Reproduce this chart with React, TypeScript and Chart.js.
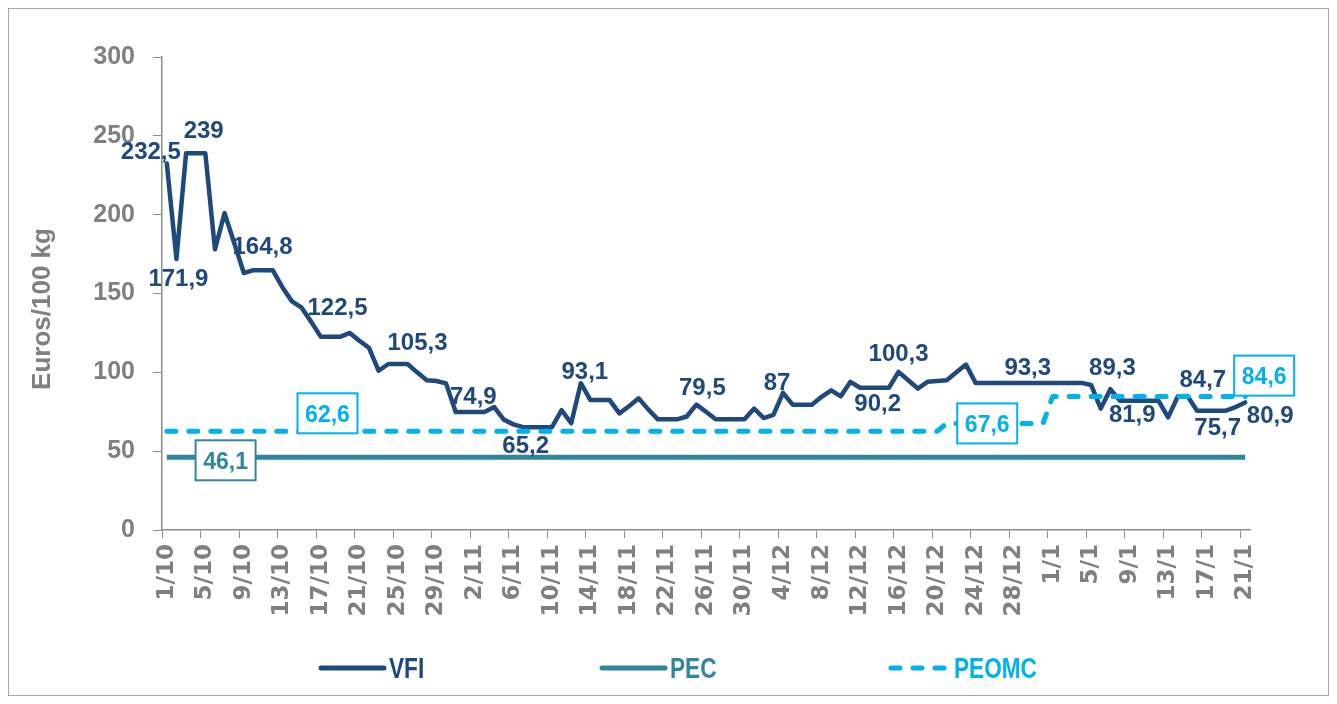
import { useEffect, useRef } from 'react';
import { Chart, registerables } from 'chart.js';

Chart.register(...registerables);

// ---------- data ----------
const DATES = [
  '1/10','2/10','3/10','4/10','5/10','6/10','7/10','8/10','9/10','10/10',
  '11/10','12/10','13/10','14/10','15/10','16/10','17/10','18/10','19/10','20/10',
  '21/10','22/10','23/10','24/10','25/10','26/10','27/10','28/10','29/10','30/10','31/10',
  '1/11','2/11','3/11','4/11','5/11','6/11','7/11','8/11','9/11','10/11',
  '11/11','12/11','13/11','14/11','15/11','16/11','17/11','18/11','19/11','20/11',
  '21/11','22/11','23/11','24/11','25/11','26/11','27/11','28/11','29/11','30/11',
  '1/12','2/12','3/12','4/12','5/12','6/12','7/12','8/12','9/12','10/12',
  '11/12','12/12','13/12','14/12','15/12','16/12','17/12','18/12','19/12','20/12',
  '21/12','22/12','23/12','24/12','25/12','26/12','27/12','28/12','29/12','30/12','31/12',
  '1/1','2/1','3/1','4/1','5/1','6/1','7/1','8/1','9/1','10/1',
  '11/1','12/1','13/1','14/1','15/1','16/1','17/1','18/1','19/1','20/1','21/1',
];

const VFI = [
  232.5, 171.9, 239, 239, 239, 178, 201, 182, 163, 164.8,
  164.8, 164.8, 154, 145, 141, 132, 122.5, 122.5, 122.5, 125,
  120, 115.5, 101, 105.3, 105.3, 105.3, 100, 95, 94.5, 93,
  74.9, 74.9, 74.9, 74.9, 78, 70, 67, 65.2, 65.2, 65.2,
  65.2, 76, 67.7, 93.1, 82.4, 82.4, 82.4, 74, 78.5, 83.5,
  76.5, 70.2, 70.2, 70.2, 72, 79.5, 75, 70.2, 70.2, 70.2,
  70.2, 77, 71, 73, 87, 79.5, 79.5, 79.5, 84.5, 88.6,
  84.8, 94, 90.2, 90.2, 90.2, 90.2, 100.3, 95, 89.7, 94,
  94.5, 95, 100, 104.9, 93.3, 93.3, 93.3, 93.3, 93.3, 93.3,
  93.3, 93.3, 93.3, 93.3, 93.3, 93.3, 92, 77, 89.3, 81.9,
  81.9, 81.9, 81.9, 81.9, 71.5, 84.7, 85, 75.7, 75.7, 75.7,
  75.7, 78, 80.9,
];

const PEC = [
  46.1, 46.1, 46.1, 46.1, 46.1, 46.1, 46.1, 46.1, 46.1, 46.1,
  46.1, 46.1, 46.1, 46.1, 46.1, 46.1, 46.1, 46.1, 46.1, 46.1,
  46.1, 46.1, 46.1, 46.1, 46.1, 46.1, 46.1, 46.1, 46.1, 46.1,
  46.1, 46.1, 46.1, 46.1, 46.1, 46.1, 46.1, 46.1, 46.1, 46.1,
  46.1, 46.1, 46.1, 46.1, 46.1, 46.1, 46.1, 46.1, 46.1, 46.1,
  46.1, 46.1, 46.1, 46.1, 46.1, 46.1, 46.1, 46.1, 46.1, 46.1,
  46.1, 46.1, 46.1, 46.1, 46.1, 46.1, 46.1, 46.1, 46.1, 46.1,
  46.1, 46.1, 46.1, 46.1, 46.1, 46.1, 46.1, 46.1, 46.1, 46.1,
  46.1, 46.1, 46.1, 46.1, 46.1, 46.1, 46.1, 46.1, 46.1, 46.1,
  46.1, 46.1, 46.1, 46.1, 46.1, 46.1, 46.1, 46.1, 46.1, 46.1,
  46.1, 46.1, 46.1, 46.1, 46.1, 46.1, 46.1, 46.1, 46.1, 46.1,
  46.1, 46.1, 46.1,
];

const PEOMC = [
  62.6, 62.6, 62.6, 62.6, 62.6, 62.6, 62.6, 62.6, 62.6, 62.6,
  62.6, 62.6, 62.6, 62.6, 62.6, 62.6, 62.6, 62.6, 62.6, 62.6,
  62.6, 62.6, 62.6, 62.6, 62.6, 62.6, 62.6, 62.6, 62.6, 62.6,
  62.6, 62.6, 62.6, 62.6, 62.6, 62.6, 62.6, 62.6, 62.6, 62.6,
  62.6, 62.6, 62.6, 62.6, 62.6, 62.6, 62.6, 62.6, 62.6, 62.6,
  62.6, 62.6, 62.6, 62.6, 62.6, 62.6, 62.6, 62.6, 62.6, 62.6,
  62.6, 62.6, 62.6, 62.6, 62.6, 62.6, 62.6, 62.6, 62.6, 62.6,
  62.6, 62.6, 62.6, 62.6, 62.6, 62.6, 62.6, 62.6, 62.6, 62.6,
  62.6, 67.6, 67.6, 67.6, 67.6, 67.6, 67.6, 67.6, 67.6, 67.6,
  67.6, 67.6, 84.6, 84.6, 84.6, 84.6, 84.6, 84.6, 84.6, 84.6,
  84.6, 84.6, 84.6, 84.6, 84.6, 84.6, 84.6, 84.6, 84.6, 84.6,
  84.6, 84.6, 84.6,
];

const SERIES_NAMES = ['VFI', 'PEC', 'PEOMC'];
const Y_TITLE = 'Euros/100 kg';

// indices of VFI points that carry a value label
const VFI_LABEL_INDEX = [0, 1, 3, 9, 17, 25, 31, 38, 43, 55, 64, 73, 76, 89, 98, 101, 105, 108, 112];
// index of boxed labels for PEC / PEOMC
const PEC_LABEL_INDEX = [6];
const PEOMC_LABEL_INDEX = [17, 85, 112];

// ---------- styling / placement ----------
const VFI_COLOR = '#1F497D';
const PEC_COLOR = '#31859C';
const PEOMC_COLOR = '#00B0F0';
const GRAY = '#808080';
const AXIS_GRAY = '#8c8c8c';
const FONT = "'Liberation Sans', Arial, sans-serif";
const XFONT = "'DejaVu Sans', sans-serif";

// label offsets (dx, dy in px from the point) in the same order as VFI_LABEL_INDEX
const VFI_LABEL_OFFSETS = [
  [-16, -13], [2, 18], [8, -24], [9, -25], [7, -30], [10, -23], [8, -17], [-7, 17],
  [4, -13], [6, -18], [-6, -11], [8, 15], [0, -20], [4, -17], [2, -23], [-7, 12],
  [25, -18], [11, 16], [25, 12],
];
const PEC_LABEL_OFFSETS = [[1, 3]];
const PEOMC_LABEL_OFFSETS = [[-3, -18], [2, 0], [19, -21]];

const fmt = (v: number) => String(v).replace('.', ',');

const valueLabelsPlugin = {
  id: 'valueLabels',
  afterDatasetsDraw(chart: any) {
    const { ctx } = chart;
    const xs = chart.scales.x;
    const ys = chart.scales.y;
    ctx.save();
    ctx.textAlign = 'center';
    ctx.textBaseline = 'alphabetic';
    // VFI labels
    const s1 = 24;
    ctx.font = `bold ${s1}px ${FONT}`;
    ctx.fillStyle = VFI_COLOR;
    VFI_LABEL_INDEX.forEach((i, k) => {
      const [dx, dy] = VFI_LABEL_OFFSETS[k];
      const px = xs.getPixelForValue(i) + dx;
      const py = ys.getPixelForValue(VFI[i]) + dy;
      ctx.fillText(fmt(VFI[i]), px, py + s1 * 0.36);
    });
    // boxed labels
    const s2 = 23;
    const boxed = (data: number[], idx: number[], offs: number[][], color: string) => {
      idx.forEach((i, k) => {
        const [dx, dy] = offs[k];
        const cx = xs.getPixelForValue(i) + dx;
        const cy = ys.getPixelForValue(data[i]) + dy;
        const w = 60, h = 40;
        ctx.fillStyle = '#ffffff';
        ctx.fillRect(cx - w / 2, cy - h / 2, w, h);
        ctx.strokeStyle = color;
        ctx.lineWidth = 2;
        ctx.strokeRect(cx - w / 2, cy - h / 2, w, h);
        ctx.font = `bold ${s2}px ${FONT}`;
        ctx.fillStyle = color;
        ctx.fillText(fmt(data[i]), cx, cy + s2 * 0.36);
      });
    };
    boxed(PEC, PEC_LABEL_INDEX, PEC_LABEL_OFFSETS, PEC_COLOR);
    boxed(PEOMC, PEOMC_LABEL_INDEX, PEOMC_LABEL_OFFSETS, PEOMC_COLOR);
    ctx.restore();
  },
};

const decorPlugin = {
  id: 'decor',
  afterDraw(chart: any) {
    const { ctx } = chart;
    ctx.save();
    // y axis title
    const ts = 26;
    ctx.translate(32, 300);
    ctx.rotate(-Math.PI / 2);
    ctx.font = `bold ${ts}px ${FONT}`;
    ctx.fillStyle = GRAY;
    ctx.textAlign = 'center';
    ctx.textBaseline = 'alphabetic';
    ctx.fillText(Y_TITLE, 0, ts * 0.36);
    ctx.restore();

    // legend
    const ly = 659;
    const items = [
      { name: SERIES_NAMES[0], color: VFI_COLOR, x0: 312, x1: 375, dash: [] as number[] },
      { name: SERIES_NAMES[1], color: PEC_COLOR, x0: 593, x1: 656, dash: [] as number[] },
      { name: SERIES_NAMES[2], color: PEOMC_COLOR, x0: 882, x1: 940, dash: [9, 13] },
    ];
    const ls = 29;
    items.forEach((it) => {
      ctx.save();
      ctx.beginPath();
      ctx.setLineDash(it.dash);
      ctx.lineWidth = 5;
      ctx.lineCap = 'round';
      ctx.strokeStyle = it.color;
      ctx.moveTo(it.x0, ly);
      ctx.lineTo(it.x1, ly);
      ctx.stroke();
      ctx.setLineDash([]);
      ctx.translate(it.x1 + 5, ly + ls * 0.36);
      ctx.scale(0.78, 1);
      ctx.font = `bold ${ls}px ${FONT}`;
      ctx.fillStyle = it.color;
      ctx.textAlign = 'left';
      ctx.textBaseline = 'alphabetic';
      ctx.fillText(it.name, 0, 0);
      ctx.restore();
    });
  },
};

export default function App() {
  const ref = useRef<HTMLCanvasElement | null>(null);

  useEffect(() => {
    if (!ref.current) return;
    const chart = new Chart(ref.current, {
      type: 'line',
      data: {
        labels: DATES,
        datasets: [
          {
            label: SERIES_NAMES[0],
            data: VFI,
            borderColor: VFI_COLOR,
            borderWidth: 4.5,
            pointRadius: 0,
            tension: 0,
            borderJoinStyle: 'round',
            borderCapStyle: 'round',
            order: 3,
          },
          {
            label: SERIES_NAMES[1],
            data: PEC,
            borderColor: PEC_COLOR,
            borderWidth: 5,
            pointRadius: 0,
            tension: 0,
            borderCapStyle: 'butt',
            order: 2,
          },
          {
            label: SERIES_NAMES[2],
            data: PEOMC,
            borderColor: PEOMC_COLOR,
            borderWidth: 5,
            borderDash: [9, 13],
            borderCapStyle: 'round',
            borderJoinStyle: 'round',
            pointRadius: 0,
            tension: 0,
            order: 1,
          },
        ],
      },
      options: {
        responsive: true,
        maintainAspectRatio: false,
        animation: false,
        layout: { padding: { left: 0, right: 78, top: 48, bottom: 65 } },
        plugins: {
          legend: { display: false },
          tooltip: { enabled: false },
        },
        scales: {
          x: {
            type: 'category',
            offset: true,
            grid: {
              offset: true,
              drawOnChartArea: false,
              drawTicks: true,
              tickLength: 8,
              tickWidth: 1,
              tickColor: (c: any) => (typeof c.index === 'number' && c.index % 4 === 0 ? AXIS_GRAY : 'rgba(0,0,0,0)'),
            },
            border: { display: true, color: AXIS_GRAY, width: 1.5 },
            ticks: {
              autoSkip: false,
              maxRotation: 90,
              minRotation: 90,
              padding: 6,
              color: GRAY,
              font: { family: XFONT, size: 23, weight: 'bold' },
              callback: (_v: any, i: number) => (i % 4 === 0 ? DATES[i] : ''),
            },
            afterFit: (s: any) => { s.height = 100; },
          },
          y: {
            min: 0,
            max: 300,
            grid: {
              drawOnChartArea: false,
              drawTicks: true,
              tickLength: 9,
              color: AXIS_GRAY,
            },
            border: { display: true, color: AXIS_GRAY, width: 1.5 },
            ticks: {
              stepSize: 50,
              padding: 18,
              color: GRAY,
              font: { family: FONT, size: 25, weight: 'bold' },
            },
            afterFit: (s: any) => { s.width = 153; },
          },
        },
      },
      plugins: [valueLabelsPlugin, decorPlugin],
    } as any);
    return () => chart.destroy();
  }, []);

  return (
    <div
      style={{
        position: 'relative',
        width: 1321,
        height: 688,
        border: '1px solid #a6a6a6',
        boxSizing: 'border-box',
        background: '#ffffff',
      }}
    >
      <canvas ref={ref} style={{ display: 'block' }} />
    </div>
  );
}
